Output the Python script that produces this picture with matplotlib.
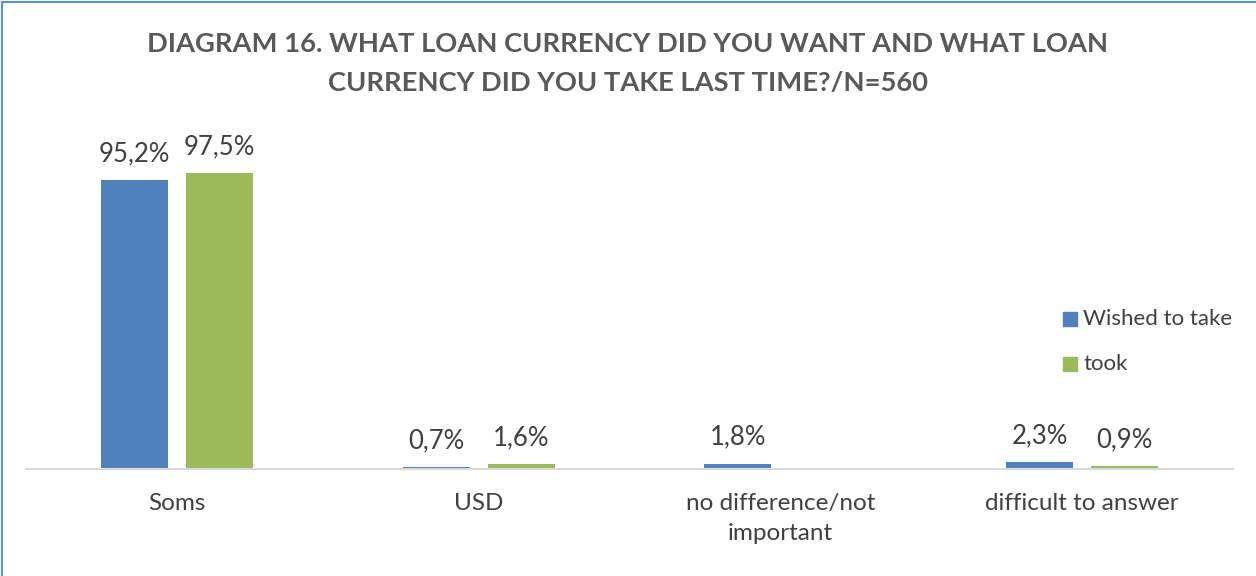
import matplotlib.pyplot as plt
from matplotlib.patches import Rectangle
import numpy as np

categories = ['Soms', 'USD', 'no difference/not\nimportant', 'difficult to answer']
wished = [95.2, 0.7, 1.8, 2.3]
took = [97.5, 1.6, 0.0, 0.9]
wished_labels = ['95,2%', '0,7%', '1,8%', '2,3%']
took_labels = ['97,5%', '1,6%', '', '0,9%']

blue = '#4F81BD'
green = '#9BBB59'
text_col = '#404040'

plt.rcParams['font.family'] = ['Lato', 'DejaVu Sans']

fig = plt.figure(figsize=(12.56, 5.76), dpi=100)
ax = fig.add_axes([26 / 1256, 1 - 469 / 576, 1207 / 1256, 303.6 / 576])

x = np.arange(len(categories))
w = 0.222
off = 0.141
b1 = ax.bar(x - off, wished, w, color=blue)
b2 = ax.bar(x + off, took, w, color=green)

for bars, labels in ((b1, wished_labels), (b2, took_labels)):
    for rect, lab in zip(bars, labels):
        if not lab:
            continue
        ax.annotate(lab, (rect.get_x() + rect.get_width() / 2, rect.get_height()),
                    xytext=(0, 10), textcoords='offset points',
                    ha='center', va='bottom', fontsize=18.5, color=text_col)

ax.set_xlim(-0.5, len(categories) - 0.5)
ax.set_ylim(0, 100)
ax.set_yticks([])
ax.set_xticks(x)
ax.set_xticklabels(categories, fontsize=17.5, color=text_col, linespacing=1.55)
ax.tick_params(axis='x', length=0, pad=17)
for s in ['left', 'right', 'top']:
    ax.spines[s].set_visible(False)
ax.spines['bottom'].set_color('#D9D9D9')
ax.spines['bottom'].set_linewidth(1.5)

# legend drawn by hand on the right side
for i, (name, col) in enumerate([('Wished to take', blue), ('took', green)]):
    yc = 1 - (319 + 45 * i) / 576
    fig.patches.append(Rectangle((1063 / 1256, yc - 7 / 576), 14 / 1256, 14 / 576,
                                 transform=fig.transFigure, color=col))
    fig.text(1083 / 1256, yc, name, ha='left', va='center', fontsize=16, color=text_col)

fig.text(0.5, 1 - 64 / 576,
         'DIAGRAM 16. WHAT LOAN CURRENCY DID YOU WANT AND WHAT LOAN\nCURRENCY DID YOU TAKE LAST TIME?/N=560',
         ha='center', va='center', fontsize=19.7, fontweight='bold', color='#595959',
         linespacing=1.75)

# chart frame
fig.patches.append(Rectangle((2 / 1256, -0.01), 1.1, 1 - 2 / 576 + 0.01,
                             transform=fig.transFigure, fill=False,
                             edgecolor='#5B8FD0', linewidth=1.5))

fig.savefig('out.png', dpi=100)
